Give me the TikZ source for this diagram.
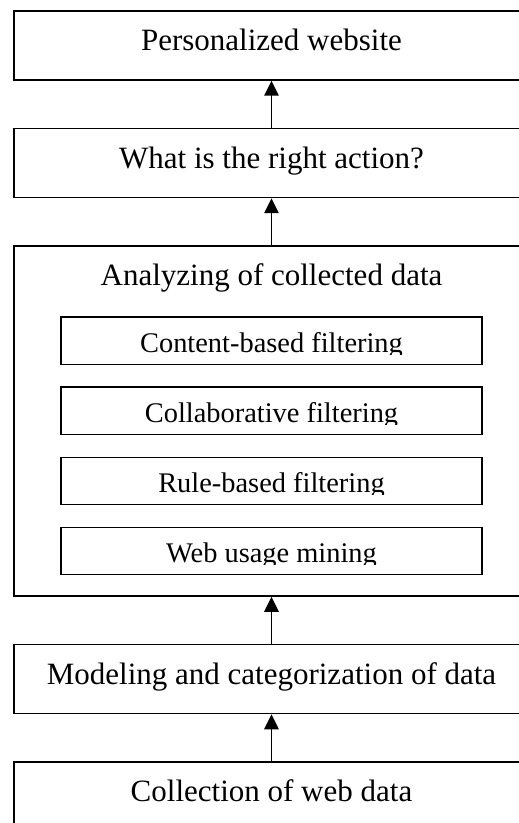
\documentclass[tikz,border=0pt]{standalone}
\usepackage{fontspec}
\setmainfont{Liberation Serif}
\usetikzlibrary{arrows.meta,positioning}

\begin{document}
\begin{tikzpicture}[
  stage/.style={draw,line width=0.6pt,font=\fontsize{12}{14}\selectfont,minimum width=199.4pt,minimum height=26.7pt,text height=8.2pt,text depth=4.3pt,inner sep=0pt},
  subbox/.style={font=\fontsize{11}{13}\selectfont,minimum width=163pt,minimum height=18.2pt,text height=10.2pt,text depth=1.3pt,inner sep=0pt,outer sep=0pt},
  arr/.style={-{Triangle[length=5.8pt,width=5.6pt]},line width=0.6pt},
  node distance=18.2pt
]
  \useasboundingbox (-105.1pt,17.6pt) rectangle (95.8pt,-301pt);
  \node[stage] (site) at (0,0) {Personalized website};
  \node[stage,below=of site] (action) {What is the right action?};
  \node[stage,minimum height=135.5pt,below=of action] (analysis) {};
  \node[stage,below=of analysis] (model) {Modeling and categorization of data};
  \node[stage,below=of model] (collect) {Collection of web data};
  \node[font=\fontsize{12}{14}\selectfont,anchor=base] (analysistitle) at ([yshift=-15.5pt]analysis.north) {Analyzing of collected data};
  % filtering methods, text cut at the baseline as in the original
  \foreach \nm/\txt [count=\i from 0] in {cbf/Content-based filtering,cof/Collaborative filtering,rbf/Rule-based filtering,wum/Web usage mining}{
    \coordinate (mid) at ([yshift={-36.97pt-\i*27.1pt}]analysis.north);
    \begin{scope}
      \clip ([xshift=-82pt,yshift=10pt]mid) rectangle ([xshift=82pt,yshift=-5.4pt]mid);
      \node[subbox] (\nm) at (mid) {\txt};
    \end{scope}
    \draw[line width=0.6pt] (\nm.south west) rectangle (\nm.north east);
  }
  \draw[arr] (action) -- (site);
  \draw[arr] (analysis) -- (action);
  \draw[arr] (model) -- (analysis);
  \draw[arr] (collect) -- (model);
\end{tikzpicture}
\end{document}
